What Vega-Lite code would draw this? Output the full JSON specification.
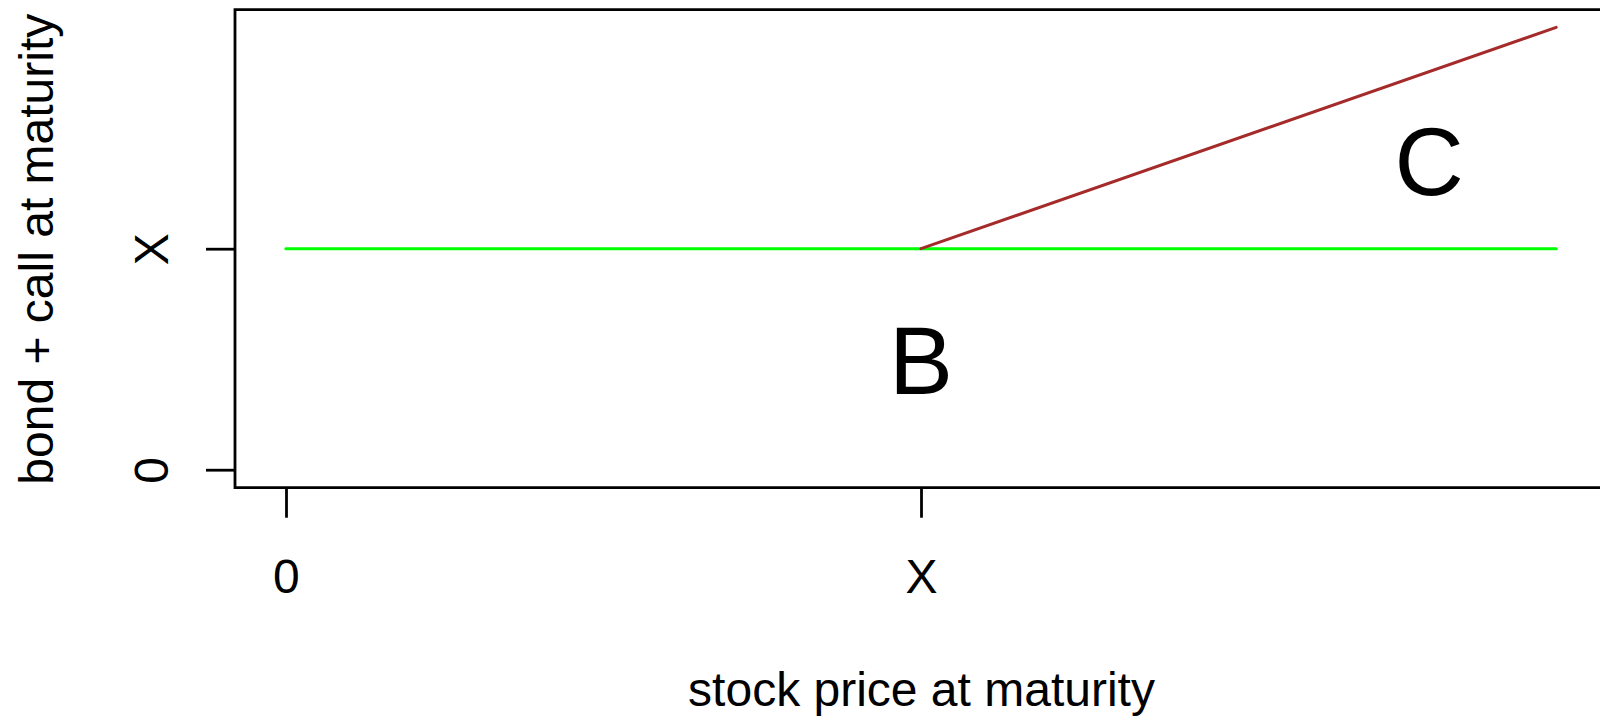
{
  "$schema": "https://vega.github.io/schema/vega-lite/v6.json",
  "width": 1372,
  "height": 478,
  "autosize": {"type": "none"},
  "padding": {"left": 235, "top": 9.7, "right": 0, "bottom": 232.3},
  "background": "white",
  "config": {
    "view": {"stroke": "black", "strokeWidth": 2.8},
    "font": "Liberation Sans"
  },
  "datasets": {
    "lines": [
      {"series": "bond", "s": 0, "v": 1},
      {"series": "bond", "s": 2, "v": 1},
      {"series": "call", "s": 1, "v": 1},
      {"series": "call", "s": 2, "v": 2}
    ],
    "labels": [
      {"s": 1, "v": 0.5, "lab": "B"},
      {"s": 1.8, "v": 1.4, "lab": "C"}
    ]
  },
  "layer": [
    {
      "data": {"name": "lines"},
      "mark": {"type": "line", "strokeWidth": 3, "strokeCap": "round"},
      "encoding": {
        "x": {
          "field": "s",
          "type": "quantitative",
          "scale": {"domain": [-0.08, 2.08], "nice": false, "zero": false},
          "axis": {
            "title": "stock price at maturity",
            "values": [0, 1],
            "labelExpr": "datum.value == 0 ? '0' : 'X'",
            "grid": false,
            "domain": false,
            "tickSize": 29.5,
            "tickWidth": 2.8,
            "tickColor": "black",
            "labelFont": "Liberation Sans",
            "labelFontSize": 48,
            "labelColor": "black",
            "labelBaseline": "alphabetic",
            "labelAlign": "center",
            "labelPadding": 74.8,
            "labelFlush": false,
            "labelOverlap": false,
            "titleFont": "Liberation Sans",
            "titleFontSize": 48,
            "titleFontWeight": "normal",
            "titleColor": "black",
            "titleBaseline": "alphabetic",
            "titleAlign": "center",
            "titleY": 217.3
          }
        },
        "y": {
          "field": "v",
          "type": "quantitative",
          "scale": {"domain": [-0.08, 2.08], "nice": false, "zero": false},
          "axis": {
            "title": "bond + call at maturity",
            "values": [0, 1],
            "labelExpr": "datum.value == 0 ? '0' : 'X'",
            "grid": false,
            "domain": false,
            "tickSize": 29.5,
            "tickWidth": 2.8,
            "tickColor": "black",
            "labelFont": "Liberation Sans",
            "labelFontSize": 48,
            "labelColor": "black",
            "labelAngle": 270,
            "labelAlign": "center",
            "labelBaseline": "alphabetic",
            "labelPadding": 38.5,
            "labelFlush": false,
            "labelOverlap": false,
            "titleFont": "Liberation Sans",
            "titleFontSize": 48,
            "titleFontWeight": "normal",
            "titleColor": "black",
            "titleAngle": 270,
            "titleAlign": "center",
            "titleBaseline": "alphabetic",
            "titleX": -183,
            "titleY": 239
          }
        },
        "color": {
          "field": "series",
          "type": "nominal",
          "scale": {"domain": ["bond", "call"], "range": ["#00FF00", "#A52A2A"]},
          "legend": null
        },
        "order": {"field": "s", "type": "quantitative"}
      }
    },
    {
      "data": {"name": "labels"},
      "mark": {
        "type": "text",
        "font": "Liberation Sans",
        "fontSize": 96,
        "align": "center",
        "baseline": "alphabetic",
        "dy": 34.4,
        "color": "black"
      },
      "encoding": {
        "x": {"field": "s", "type": "quantitative"},
        "y": {"field": "v", "type": "quantitative"},
        "text": {"field": "lab", "type": "nominal"}
      }
    }
  ]
}
